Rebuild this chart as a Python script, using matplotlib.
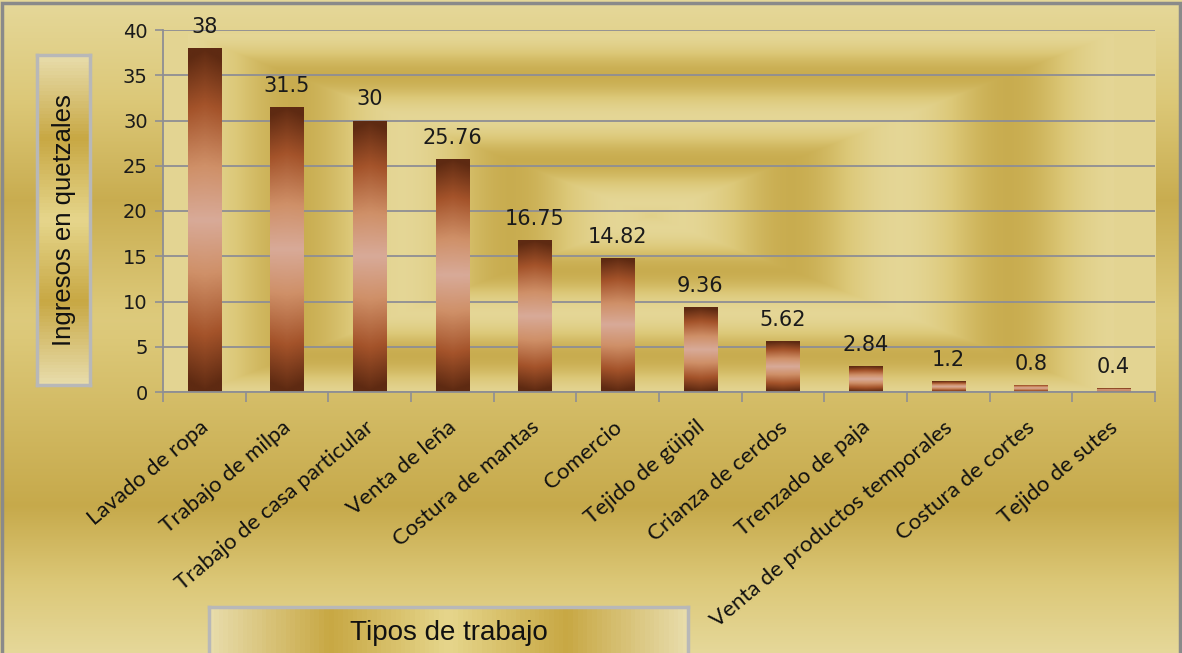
import numpy as np
import matplotlib.pyplot as plt
import matplotlib.transforms as mtransforms
from matplotlib.colors import LinearSegmentedColormap
from matplotlib.patches import Rectangle

categorias = ["Lavado de ropa", "Trabajo de milpa", "Trabajo de casa particular",
              "Venta de leña", "Costura de mantas", "Comercio", "Tejido de güipil",
              "Crianza de cerdos", "Trenzado de paja", "Venta de productos temporales",
              "Costura de cortes", "Tejido de sutes"]
ingresos = [38, 31.5, 30, 25.76, 16.75, 14.82, 9.36, 5.62, 2.84, 1.2, 0.8, 0.4]
etiquetas = ["38", "31.5", "30", "25.76", "16.75", "14.82", "9.36", "5.62",
             "2.84", "1.2", "0.8", "0.4"]

W, H = 1182, 653
fig = plt.figure(figsize=(W / 100, H / 100), dpi=100)

gold = LinearSegmentedColormap.from_list("gold", ["#e8dca2", "#dcc878", "#c4a646"])

# figure background: horizontal light / dark bands
bg = fig.add_axes([0, 0, 1, 1], zorder=-10)
ypix = np.arange(H)
shade = np.interp(ypix, [0, 50, 200, 320, 505, 653], [0.1, 0.3, 0.9, 0.45, 0.95, 0.1])
bg.imshow(np.repeat(shade[:, None], 4, axis=1), cmap=gold, aspect="auto",
          extent=[0, 1, 0, 1], vmin=0, vmax=1)
bg.set_xlim(0, 1)
bg.set_ylim(0, 1)
bg.axis("off")
bg.add_patch(Rectangle((0.002, -0.01), 0.996, 1.006, fill=False,
                       edgecolor="#8a8a8a", lw=2.5))

# plot area
L, R, T, B = 163, 1155, 30, 392
ax = fig.add_axes([L / W, 1 - B / H, (R - L) / W, (B - T) / H])
n = len(categorias)

# concentric rectangle shading behind the bars
X, Y = np.meshgrid(np.arange(L, R), np.arange(T, B))
d = np.maximum(np.abs(X - 650) / 140.0, np.abs(Y - 215) / 55.0)
ring = (np.cos(2 * np.pi * (d - 1) / 1.55) + 1) / 2
ring = np.where(d > 3.3, 0.05, ring)
ax.imshow(0.15 + ring * 0.75, cmap=gold, aspect="auto", extent=[-0.5, n - 0.5, 0, 40],
          vmin=0, vmax=1, zorder=0, interpolation="bilinear")

ax.yaxis.grid(True, color="#8e8e94", lw=1.3, zorder=1)
ax.set_axisbelow(True)

bar_cmap = LinearSegmentedColormap.from_list(
    "cobre", [(0, "#5e2a12"), (0.16, "#a4532a"), (0.34, "#cf9068"),
              (0.5, "#d8aa98"), (0.66, "#cf9068"), (0.84, "#a4532a"),
              (1, "#5e2a12")])
gy, gx = np.meshgrid(np.linspace(0, 1, 200), np.linspace(-1, 1, 60), indexing="ij")
grad = 0.5 + (gy - 0.5) * (1 + 0.06 * np.abs(gx))

bars = ax.bar(range(n), ingresos, width=0.4, color="none", lw=0, zorder=3)
for b, lab in zip(bars, etiquetas):
    bx, bw, bh = b.get_x(), b.get_width(), b.get_height()
    im = ax.imshow(np.clip(grad, 0, 1), cmap=bar_cmap, aspect="auto",
                   extent=[bx, bx + bw, 0, bh], vmin=0, vmax=1, zorder=2)
    im.set_clip_path(b)
    ax.annotate(lab, (bx + bw / 2, bh), xytext=(0, 8), textcoords="offset points",
                ha="center", va="bottom", fontsize=15, family="DejaVu Sans",
                color="#1a1a1a", zorder=4)
ax.set_xlim(-0.5, n - 0.5)
ax.set_ylim(0, 40)

ax.set_yticks(np.arange(0, 41, 5))
ax.tick_params(axis="y", labelsize=14, colors="#8e8e94", labelcolor="#1a1a1a",
               length=6, width=1.2, direction="out", pad=5)
for t in ax.get_yticklabels():
    t.set_family("DejaVu Sans")

ax.set_xticks(range(n))
ax.set_xticklabels(categorias, rotation=40, ha="right", va="top",
                   rotation_mode="anchor", fontsize=16, family="Lato",
                   color="#111111")
ax.tick_params(axis="x", which="major", length=0, pad=18)
shift = mtransforms.ScaledTranslation(-5 / 100, 0, fig.dpi_scale_trans)
for t in ax.get_xticklabels():
    t.set_transform(t.get_transform() + shift)
ax.set_xticks(np.arange(-0.5, n, 1), minor=True)
ax.tick_params(axis="x", which="minor", length=7, width=1.2, color="#8e8e94",
               direction="out")
for s in ["top", "right"]:
    ax.spines[s].set_visible(False)
for s in ["left", "bottom"]:
    ax.spines[s].set_color("#8e8e94")
    ax.spines[s].set_linewidth(1.3)

# axis title boxes
band = LinearSegmentedColormap.from_list(
    "band", ["#e8dcaa", "#c8a844", "#e6d68c", "#c8a844", "#e8dcaa"])
ybox = fig.add_axes([37 / W, 1 - 385 / H, 53 / W, 330 / H], zorder=5)
ybox.imshow(np.linspace(0, 1, 100)[:, None], cmap=band, aspect="auto",
            extent=[0, 1, 0, 1])
ybox.set_xticks([])
ybox.set_yticks([])
for s in ybox.spines.values():
    s.set_color("#b8b8b8")
    s.set_linewidth(2.5)
ybox.text(0.5, 0.5, "Ingresos en quetzales", rotation=90, ha="center",
          va="center", fontsize=18.5, family="Liberation Sans", color="#111111")

xbox = fig.add_axes([209 / W, -0.01, 479 / W, 53 / H], zorder=5)
xbox.imshow(np.linspace(0, 1, 100)[None, :], cmap=band, aspect="auto",
            extent=[0, 1, 0, 1])
xbox.set_xticks([])
xbox.set_yticks([])
for s in xbox.spines.values():
    s.set_color("#b8b8b8")
    s.set_linewidth(2.5)
xbox.text(0.5, 0.5, "Tipos de trabajo", ha="center", va="center",
          fontsize=20, family="Liberation Sans", color="#111111")

fig.savefig("out.png", dpi=100)
